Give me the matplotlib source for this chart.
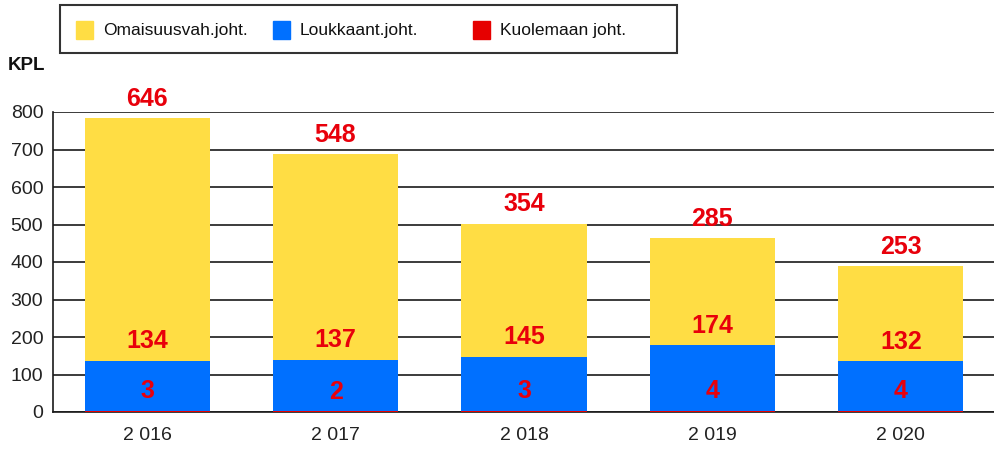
import matplotlib.pyplot as plt
from matplotlib.patches import Rectangle
import numpy as np

vuodet = ["2 016", "2 017", "2 018", "2 019", "2 020"]
kuolema = [3, 2, 3, 4, 4]
loukkaant = [134, 137, 145, 174, 132]
omaisuus = [646, 548, 354, 285, 253]
sarjat = ["Omaisuusvah.joht.", "Loukkaant.joht.", "Kuolemaan joht."]
y_ticks = [0, 100, 200, 300, 400, 500, 600, 700, 800]

keltainen = "#FFDD44"
sininen = "#0070FF"
punainen = "#E60000"
varit = [keltainen, sininen, punainen]

plt.rcParams["font.family"] = ["Liberation Sans", "DejaVu Sans"]

W, H = 995, 450
fig = plt.figure(figsize=(W / 100, H / 100), dpi=100)
ax = fig.add_axes([53 / W, 38 / H, 942 / W, 300 / H])

x = np.arange(len(vuodet))
w = 0.665
k = np.array(kuolema)
l = np.array(loukkaant)
o = np.array(omaisuus)

ax.bar(x, k, w, color=punainen, zorder=3)
ax.bar(x, l, w, bottom=k, color=sininen, zorder=3)
ax.bar(x, o, w, bottom=k + l, color=keltainen, zorder=3)

# arvot punaisella, hieman segmentin yläpuolella
for arvot, pohja in [(k, 0), (l, k), (o, k + l)]:
    for xi, v, top in zip(x, arvot, np.array(arvot) + pohja):
        ax.annotate(str(v), (xi, top), xytext=(0, 14), textcoords="offset points",
                    ha="center", va="center", color="#E8000B", fontsize=18,
                    fontweight="bold", annotation_clip=False, zorder=5)

ax.set_xlim(-0.5, len(vuodet) - 0.5)
ax.set_ylim(0, 800)
ax.set_yticks(y_ticks)
ax.set_xticks(x)
ax.set_xticklabels(vuodet)
ax.tick_params(axis="both", length=0, labelsize=14, colors="#222222")
ax.tick_params(axis="x", pad=11)
ax.tick_params(axis="y", pad=7)
ax.grid(axis="y", color="#1a1a1a", linewidth=1.2, zorder=0)
for s in ["top", "right"]:
    ax.spines[s].set_visible(False)
for s in ["left", "bottom"]:
    ax.spines[s].set_color("#1a1a1a")
    ax.spines[s].set_linewidth(1.2)

fig.text(8 / W, 1 - 66 / H, "KPL", fontsize=13.5, fontweight="bold",
         va="center", ha="left", color="#111111")

# selite käsin, kiinteät sarakeleveydet kuten alkuperäisessä
fig.patches.append(Rectangle((60 / W, 1 - 53 / H), 617 / W, 48 / H,
                             transform=fig.transFigure, fill=False,
                             edgecolor="#333333", linewidth=1.5))
for i, (nimi, vari) in enumerate(zip(sarjat, varit)):
    x0 = [76, 273, 473][i]
    fig.patches.append(Rectangle((x0 / W, 1 - 39 / H), 17 / W, 18 / H,
                                 transform=fig.transFigure, color=vari))
    fig.text((x0 + 27) / W, 1 - 30 / H, nimi, fontsize=12.5, va="center",
             ha="left", color="#111111")

fig.savefig("out.png", dpi=100)
